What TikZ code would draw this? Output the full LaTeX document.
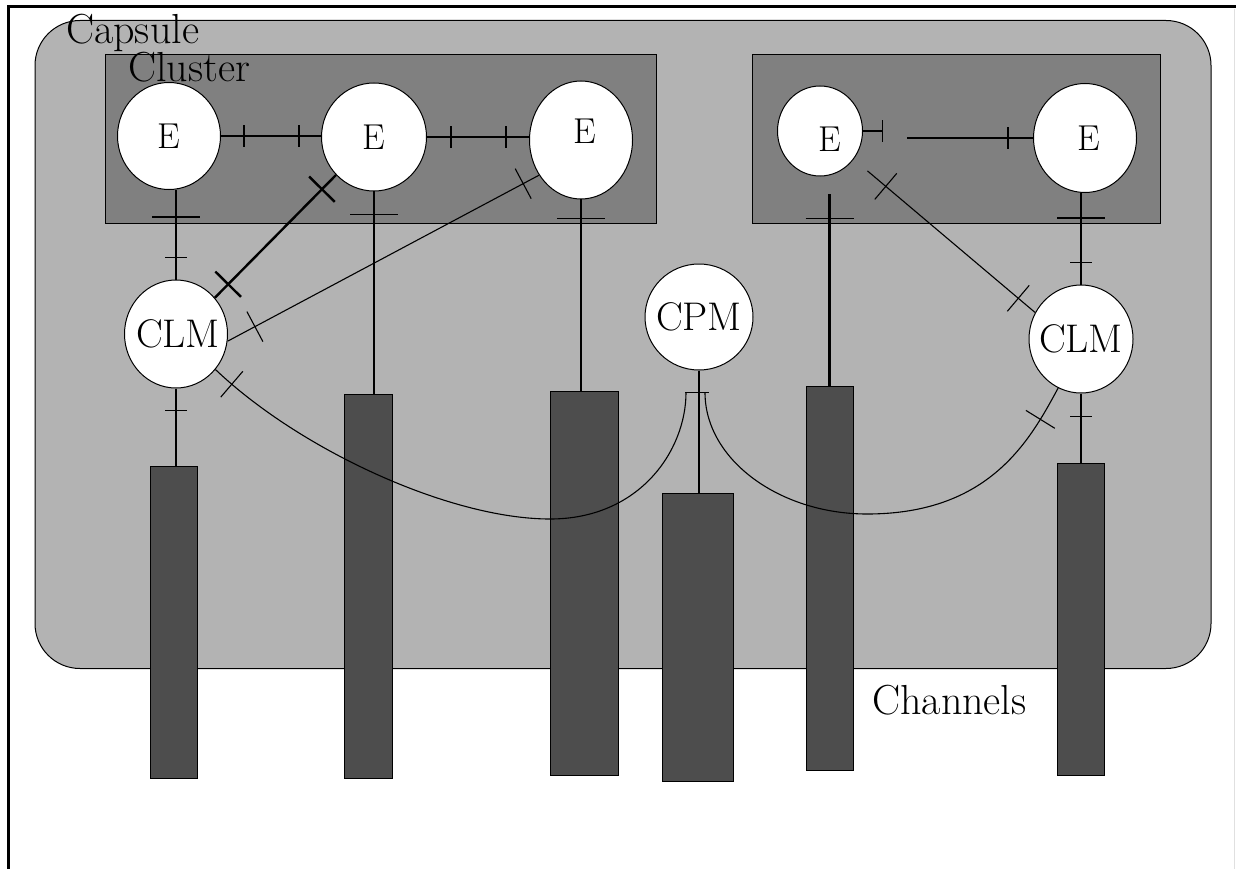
\documentclass[tikz,border=0pt]{standalone}
\usepackage{fontspec}
\usetikzlibrary{shapes.geometric,decorations.markings,calc}
\definecolor{capcol}{HTML}{B3B3B3}
\definecolor{clucol}{HTML}{808080}
\definecolor{barcol}{HTML}{4D4D4D}
\tikzset{
  conn/.style={draw=black, line width=1.1pt},
  ent/.style={ellipse, draw=black, line width=1pt, fill=white, inner sep=0pt},
  nt/.style={font=\fontsize{36pt}{38pt}\selectfont, inner sep=0pt},
  ntb/.style={font=\fontsize{40pt}{42pt}\selectfont, inner sep=0pt},
  lbl/.style={font=\fontsize{42pt}{44pt}\selectfont, inner sep=0pt, anchor=base west},
  chan/.style={draw=black, line width=1pt, fill=barcol, inner sep=0pt},
  clusterbox/.style={draw=black, line width=1pt, fill=clucol, inner sep=0pt},
  capsulebox/.style={draw=black, line width=1pt, fill=capcol, inner sep=0pt, rounded corners=45pt},
  tk/.style={postaction={decorate,decoration={markings,mark=at position #1 with {\draw[line width=1.1pt] (0,-11pt)--(0,11pt);}}}},
  portbar/.style={postaction={decorate,decoration={markings,mark=at position #1 with {\draw[line width=1.6pt] (0,-24pt)--(0,24pt);}}}},
  xk/.style={postaction={decorate,decoration={markings,mark=at position #1 with {\draw[line width=1.1pt] (0,-17pt)--(0,17pt);}}}},
  xkk/.style={postaction={decorate,decoration={markings,mark=at position #1 with {\draw[line width=2.4pt] (0,-18pt)--(0,18pt);}}}}
}
\begin{document}
\begin{tikzpicture}[x=1pt,y=-1pt]
\useasboundingbox (0,0) rectangle (1236,869);
% frame
\draw[line width=3pt] (8.5,869) -- (8.5,7) -- (1236,7);
\draw[black!12, line width=1pt] (1234.5,9) -- (1234.5,869);
% capsule and clusters
\node[capsulebox, minimum width=1176pt, minimum height=648pt] (cap) at (623,344.5) {};
\node[clusterbox, minimum width=551pt, minimum height=168pt] (cl1) at (380.5,139) {};
\node[clusterbox, minimum width=408pt, minimum height=168pt] (cl2) at (956,139) {};
\node[lbl] (capl) at (66,44) {Capsule};
\node[lbl] (clul) at (128,82) {Cluster};
% channels
\node[chan, minimum width=47pt, minimum height=312pt] (B1) at (173.5,622) {};
\node[chan, minimum width=48pt, minimum height=384pt] (B2) at (368,586) {};
\node[chan, minimum width=68pt, minimum height=384pt] (B3) at (584,583) {};
\node[chan, minimum width=71pt, minimum height=288pt] (B4) at (697.5,637) {};
\node[chan, minimum width=47pt, minimum height=384pt] (B5) at (829.5,578) {};
\node[chan, minimum width=47pt, minimum height=312pt] (B6) at (1080.5,619) {};
\node[lbl] (chl) at (872,714) {Channels};
% entities
\node[ent, minimum width=103pt, minimum height=107pt, label={[nt]center:E}] (E1) at (169,136) {};
\node[ent, minimum width=105pt, minimum height=108pt, label={[nt]center:E}] (E2) at (374,137) {};
\node[ent, minimum width=103pt, minimum height=118pt, label={[nt, xshift=4pt, yshift=9pt]center:E}] (E3) at (581,140) {};
\node[ent, minimum width=85pt, minimum height=90pt, label={[nt, xshift=10pt, yshift=-8pt]center:E}] (E4) at (820,131) {};
\node[ent, minimum width=103pt, minimum height=109pt, label={[nt, xshift=4pt]center:E}] (E5) at (1085,138) {};
\node[ent, minimum width=103pt, minimum height=108pt, label={[ntb, xshift=2pt]center:CLM}] (CLM1) at (176,334) {};
\node[ent, minimum width=108pt, minimum height=106pt, label={[ntb]center:CPM}] (CPM) at (699,317) {};
\node[ent, minimum width=104pt, minimum height=108pt, label={[ntb]center:CLM}] (CLM2) at (1081,339) {};
% helper coordinates
\coordinate (cpmL) at ($(CPM.south)+(-13,22)$);
\coordinate (cpmR) at ($(CPM.south)+(6,22)$);
\coordinate (e4s) at (B5.north |- E4.south);
\coordinate (e4b) at ($(e4s)+(0,18)$);
\coordinate (e4d) at ($(E4.-40)!18pt!(CLM2.150)$);
\coordinate (e45) at (907,138);
% horizontal connectors
\draw[conn, tk=23pt, tk=-22pt] (E1.east) -- (E1.east -| E2.west);
\draw[conn, tk=24pt, tk=-23pt] (E2.east) -- (E2.east -| E3.west);
\draw[conn, tk=19.5pt] (E4.east) -- ++(20,0);
\draw[conn, tk=-25pt] (e45) -- (E5.west);
% vertical connectors
\draw[conn, portbar=27pt, tk=-22pt] (CLM1.north |- E1.south) -- (CLM1.north);
\draw[conn, portbar=23pt] (E2.south) -- (E2.south |- B2.north);
\draw[conn, portbar=19pt] (E3.south) -- (E3.south |- B3.north);
\draw[conn, line width=2.2pt, portbar=24pt] (e4b) -- (B5.north);
\draw[conn, portbar=25pt, tk=-22pt] (CLM2.north |- E5.south) -- (CLM2.north);
\draw[conn, tk=22pt] (CLM1.south) -- (CLM1.south |- B1.north);
\draw[conn, tk=23pt] (CLM2.south) -- (CLM2.south |- B6.north);
\draw[conn, line width=1.1pt] (CPM.south) -- (CPM.south |- B4.north);
\draw[line width=1.1pt] ($(cpmL)+(-1,0)$) -- ($(cpmR)+(4,0)$);
% diagonal connectors
\draw[conn, line width=2.4pt, xkk=20pt, xkk=-19pt] (E2.225) -- (CLM1.43);
\draw[conn, xk=18pt, xk=-31pt] (E3.220) -- (CLM1.-8);
\draw[conn, xk=24pt, xk=-22pt] (e4d) -- (CLM2.150);
% curved connectors
\draw[conn, xk=22pt] (CLM1.-42) .. controls (300,450) and (450,519) .. (550,519)
  .. controls (640,519) and (686,450) .. (cpmL);
\draw[conn, xk=-36pt] (cpmR) .. controls (705,460) and (780,514) .. (867,514)
  .. controls (990,514) and (1030,440) .. (CLM2.245);
\end{tikzpicture}
\end{document}
